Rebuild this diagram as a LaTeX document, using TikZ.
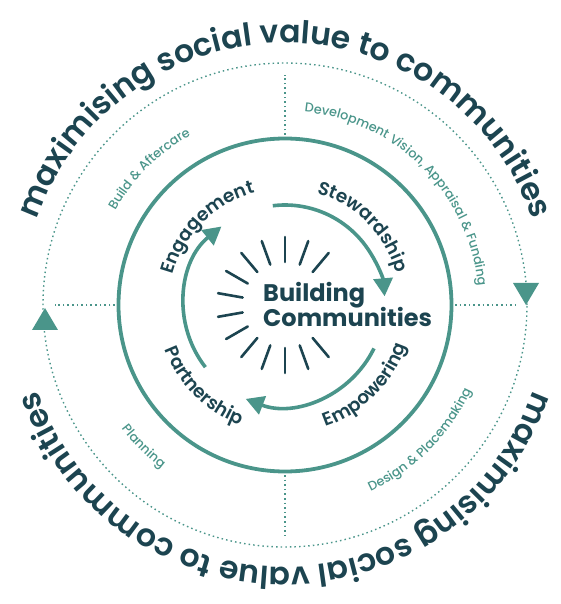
\documentclass[tikz,border=0pt]{standalone}
\usepackage{fontspec}
\setmainfont{Poppins}
\newfontfamily\semib{Poppins SemiBold}
\newfontfamily\medium{Poppins Medium}
\usepackage{tikz}
\usetikzlibrary{arrows.meta, decorations.text}
\definecolor{sea}{HTML}{4A958A}
\definecolor{ink}{HTML}{1C4450}

\begin{document}
\begin{tikzpicture}[x=1pt, y=1pt,
  ring/.style={sea, line width=1.4pt, dash pattern=on 1.5pt off 3.1pt},
  loop/.style={sea, line width=3.6pt, -{Triangle[length=18pt,width=19pt]}},
  ray/.style={ink, line width=2.6pt, line cap=round},
  title/.style={ink, inner sep=0pt, font=\bfseries\fontsize{24}{25}\selectfont}]
\useasboundingbox (-285,-299) rectangle (276,305);

% Outer dotted ring, spokes and the two turning marks
\draw[ring] (0,0) circle[radius=242];
\foreach \a in {0,90,180,270}
  \draw[ring] (\a:170) -- (\a:230);
\fill[sea] (-253,-25) -- (-227,-25) -- (-240,-3) -- cycle;
\fill[sea] (228,22) -- (254,22) -- (241,0) -- cycle;

% Middle ring
\draw[sea, line width=3.8pt] (0,0) circle[radius=166.5];

% Outer slogan, twice round
\path[decorate, decoration={text along path, text align=center, text color=ink,
  text={|\semib\fontsize{31.5}{32}\selectfont|maximising social value to communities}}]
  (180:262) arc[start angle=180, end angle=0, radius=262];
\path[decorate, decoration={text along path, text align=center, text color=ink,
  text={|\semib\fontsize{31.5}{32}\selectfont|maximising social value to communities}}]
  (0:262) arc[start angle=0, end angle=-180, radius=262];

% Stage labels on the dotted ring
\path[decorate, decoration={text along path, text align=center, text color=sea,
  text={|\medium\fontsize{12.8}{13}\selectfont|Build {\&} Aftercare}}]
  (180:194) arc[start angle=180, end angle=90, radius=194];
\path[decorate, decoration={text along path, text align=center, text color=sea,
  text={|\medium\fontsize{12.8}{13}\selectfont|Development Vision, Appraisal {\&} Funding}}]
  (90:194) arc[start angle=90, end angle=0, radius=194];
\path[decorate, decoration={text along path, text align=center, text color=sea,
  text={|\medium\fontsize{12.8}{13}\selectfont|Planning}}]
  (180:205) arc[start angle=180, end angle=270, radius=205];
\path[decorate, decoration={text along path, text align=center, text color=sea,
  text={|\medium\fontsize{12.8}{13}\selectfont|Design {\&} Placemaking}}]
  (270:205) arc[start angle=270, end angle=360, radius=205];

% Inner cycle words
\path[decorate, decoration={text along path, text align=center, text color=ink,
  text={|\semib\fontsize{18.5}{19}\selectfont|Engagement}}]
  (180:116) arc[start angle=180, end angle=90, radius=116];
\path[decorate, decoration={text along path, text align=center, text color=ink,
  text={|\semib\fontsize{18.5}{19}\selectfont|Stewardship}}]
  (90:116) arc[start angle=90, end angle=0, radius=116];
\path[decorate, decoration={text along path, text align=center, text color=ink,
  text={|\semib\fontsize{18.5}{19}\selectfont|Partnership}}]
  (180:128) arc[start angle=180, end angle=270, radius=128];
\path[decorate, decoration={text along path, text align=center, text color=ink,
  text={|\semib\fontsize{18.5}{19}\selectfont|Empowering}}]
  (270:128) arc[start angle=270, end angle=360, radius=128];

% Cycle arrows
\draw[loop] (97:100) arc[start angle=97, end angle=5, radius=100];
\draw[loop] (-26:99) arc[start angle=-26, end angle=-111, radius=102];
\draw[loop] (218:101) arc[start angle=218, end angle=129, radius=101];

% Sun rays and centre title
\foreach \a in {50,70,...,310}
  \draw[ray] (\a:43) -- (\a:68);
\node[title, anchor=base west] (bld) at (-22,3) {Building};
\node[title, anchor=base west] (com) at (-22,-22) {Communities};
\end{tikzpicture}
\end{document}
